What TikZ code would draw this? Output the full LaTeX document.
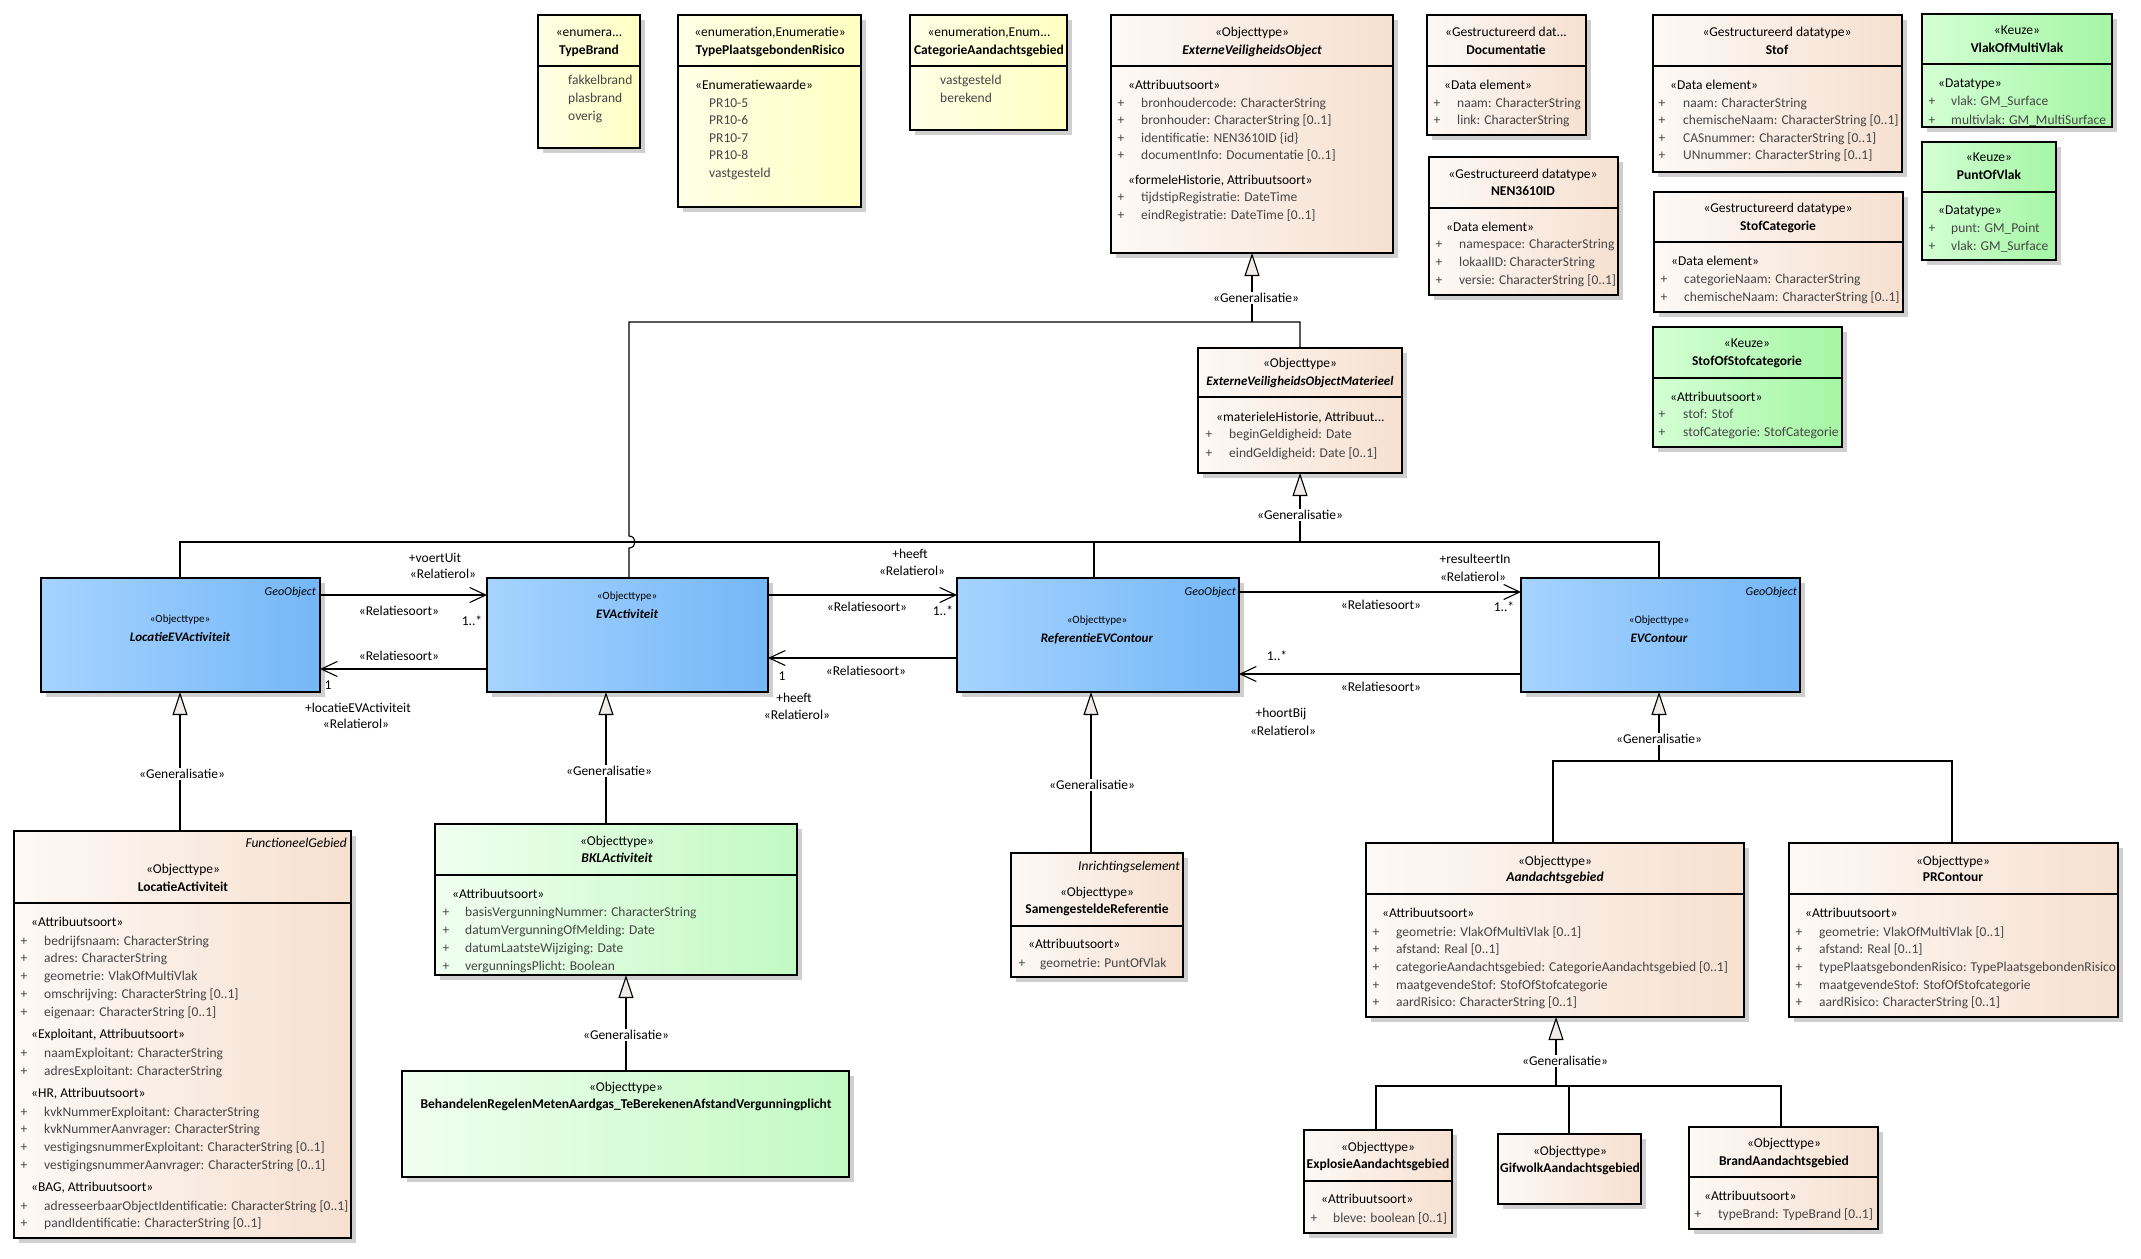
\documentclass[tikz,border=0pt]{standalone}
\usepackage{fontspec}
\setmainfont{Carlito}
\usetikzlibrary{arrows.meta}
\definecolor{beigeL}{HTML}{FDF9F6}
\definecolor{beigeR}{HTML}{F6E0D0}
\definecolor{blueL}{HTML}{A6D3FF}
\definecolor{blueR}{HTML}{74B7F7}
\definecolor{greenL}{HTML}{D4FFD4}
\definecolor{greenR}{HTML}{A4F6A4}
\definecolor{lgreenL}{HTML}{F0FFF0}
\definecolor{lgreenR}{HTML}{C2F9C2}
\definecolor{yelL}{HTML}{FFFFE6}
\definecolor{yelR}{HTML}{FFFFC2}
\definecolor{shad}{HTML}{CFCFCF}
\definecolor{attc}{HTML}{454545}
\definecolor{trif}{HTML}{F0ECE8}
\newcommand\fs{\fontsize{13.5}{16}\selectfont}
\newcommand\fss{\fontsize{11}{13}\selectfont}
\newcommand\fsn{\fontsize{13}{15}\selectfont}
\newcommand\fsg{\fontsize{12}{14}\selectfont}
\newcounter{tn}
\newcommand\uBox[6]{%
 \fill[shad] ({#2+5},{#3+5}) rectangle ({#4+5},{#5+5});
 \node[box,#6,minimum width={#4pt-#2pt},minimum height={#5pt-#3pt}] (#1) at (#2,#3) {};}
\newcommand\uDiv[2]{\draw[divl] (#1.west |- 0,#2) -- (#1.east |- 0,#2);}
\newcommand\uTL[4][]{\stepcounter{tn}\node[txt,anchor=base west,#1] (t\arabic{tn}) at (#2,{#3+4.5}) {#4};}
\newcommand\uTC[4][]{\stepcounter{tn}\node[txt,anchor=base,#1] (t\arabic{tn}) at (#2,{#3+4.5}) {#4};}
\newcommand\uTR[4][]{\stepcounter{tn}\node[txt,anchor=base east,#1] (t\arabic{tn}) at (#2,{#3+4.5}) {#4};}
\newcommand\uAR[4]{\stepcounter{tn}\node[txt,att,anchor=base] (t\arabic{tn}) at (#2,{#1+4.5}) {+};%
 \stepcounter{tn}\node[txt,att,anchor=base west] (t\arabic{tn}) at (#3,{#1+4.5}) {#4};}
\newcommand\uGL[3]{\stepcounter{tn}\node[glab] (t\arabic{tn}) at (#1,#2) {#3};}
\begin{document}
\begin{tikzpicture}[x=1pt,y=-1pt,
 box/.style={draw=black,line width=1.1pt,inner sep=0pt,outer sep=0pt,anchor=north west},
 beige/.style={left color=beigeL,right color=beigeR},
 blue/.style={left color=blueL,right color=blueR},
 green/.style={left color=greenL,right color=greenR},
 lgreen/.style={left color=lgreenL,right color=lgreenR},
 yel/.style={left color=yelL,right color=yelR},
 divl/.style={line width=1.1pt},
 txt/.style={inner sep=0pt,font=\fs,text=black},
 att/.style={text=attc},
 ln/.style={line width=1.1pt},
 gen/.style={line width=1.1pt,-{Triangle[length=23pt,width=15pt,fill=trif]}},
 assoc/.style={line width=1.1pt,-{Straight Barb[length=16pt,width=15pt]}},
 glab/.style={fill=white,inner sep=1.5pt,font=\fs}]
\fill[white] (0,0) rectangle (2141,1258);
\useasboundingbox (0,0) rectangle (2141,1258);

% ---------- enumerations
\uBox{TB}{538}{15}{640}{148}{yel}
\uDiv{TB}{66}
\uTC{589}{32}{«enumera...}
\uTC[font=\fs\bfseries]{589}{50}{TypeBrand}
\uTL[att]{568}{80}{fakkelbrand}
\uTL[att]{568}{98}{plasbrand}
\uTL[att]{568}{116}{overig}

\uBox{TPR}{678}{15}{861}{207}{yel}
\uDiv{TPR}{66}
\uTC{770}{32}{«enumeration,Enumeratie»}
\uTC[font=\fs\bfseries]{770}{50}{TypePlaatsgebondenRisico}
\uTL{695}{85}{«Enumeratiewaarde»}
\uTL[att]{709}{103}{PR10-5}
\uTL[att]{709}{120}{PR10-6}
\uTL[att]{709}{138}{PR10-7}
\uTL[att]{709}{155}{PR10-8}
\uTL[att]{709}{173}{vastgesteld}

\uBox{CAT}{910}{15}{1067}{130}{yel}
\uDiv{CAT}{66}
\uTC{989}{32}{«enumeration,Enum...}
\uTC[font=\fs\bfseries]{989}{50}{CategorieAandachtsgebied}
\uTL[att]{940}{80}{vastgesteld}
\uTL[att]{940}{98}{berekend}

% ---------- ExterneVeiligheidsObject
\uBox{EVO}{1111}{15}{1393}{253}{beige}
\uDiv{EVO}{66}
\uTC{1252}{32}{«Objecttype»}
\uTC[font=\fs\bfseries\itshape]{1252}{50}{ExterneVeiligheidsObject}
\uTL{1128}{85}{«Attribuutsoort»}
\uAR{103}{1121}{1141}{bronhoudercode: CharacterString}
\uAR{120}{1121}{1141}{bronhouder: CharacterString [0..1]}
\uAR{138}{1121}{1141}{identificatie: NEN3610ID \{id\}}
\uAR{155}{1121}{1141}{documentInfo: Documentatie [0..1]}
\uTL{1128}{180}{«formeleHistorie, Attribuutsoort»}
\uAR{197}{1121}{1141}{tijdstipRegistratie: DateTime}
\uAR{215}{1121}{1141}{eindRegistratie: DateTime [0..1]}

% ---------- Documentatie
\uBox{DOC}{1427}{15}{1586}{135}{beige}
\uDiv{DOC}{66}
\uTC{1506}{32}{«Gestructureerd dat...}
\uTC[font=\fs\bfseries]{1506}{50}{Documentatie}
\uTL{1444}{85}{«Data element»}
\uAR{103}{1437}{1457}{naam: CharacterString}
\uAR{120}{1437}{1457}{link: CharacterString}

% ---------- NEN3610ID
\uBox{NEN}{1429}{157}{1618}{295}{beige}
\uDiv{NEN}{208}
\uTC{1523}{174}{«Gestructureerd datatype»}
\uTC[font=\fs\bfseries]{1523}{191}{NEN3610ID}
\uTL{1446}{227}{«Data element»}
\uAR{244}{1439}{1459}{namespace: CharacterString}
\uAR{262}{1439}{1459}{lokaalID: CharacterString}
\uAR{280}{1439}{1459}{versie: CharacterString [0..1]}

% ---------- Stof
\uBox{STOF}{1653}{15}{1902}{172}{beige}
\uDiv{STOF}{66}
\uTC{1777}{32}{«Gestructureerd datatype»}
\uTC[font=\fs\bfseries]{1777}{50}{Stof}
\uTL{1670}{85}{«Data element»}
\uAR{103}{1662}{1683}{naam: CharacterString}
\uAR{120}{1662}{1683}{chemischeNaam: CharacterString [0..1]}
\uAR{138}{1662}{1683}{CASnummer: CharacterString [0..1]}
\uAR{155}{1662}{1683}{UNnummer: CharacterString [0..1]}

% ---------- StofCategorie
\uBox{STC}{1654}{192}{1903}{312}{beige}
\uDiv{STC}{242}
\uTC{1778}{208}{«Gestructureerd datatype»}
\uTC[font=\fs\bfseries]{1778}{226}{StofCategorie}
\uTL{1671}{261}{«Data element»}
\uAR{279}{1664}{1684}{categorieNaam: CharacterString}
\uAR{297}{1664}{1684}{chemischeNaam: CharacterString [0..1]}

% ---------- StofOfStofcategorie
\uBox{SOS}{1653}{327}{1842}{447}{green}
\uDiv{SOS}{378}
\uTC{1747}{343}{«Keuze»}
\uTC[font=\fs\bfseries]{1747}{361}{StofOfStofcategorie}
\uTL{1670}{397}{«Attribuutsoort»}
\uAR{414}{1662}{1683}{stof: Stof}
\uAR{432}{1662}{1683}{stofCategorie: StofCategorie}

% ---------- VlakOfMultiVlak
\uBox{VMV}{1922}{14}{2112}{127}{green}
\uDiv{VMV}{64}
\uTC{2017}{30}{«Keuze»}
\uTC[font=\fs\bfseries]{2017}{48}{VlakOfMultiVlak}
\uTL{1938}{83}{«Datatype»}
\uAR{101}{1932}{1951}{vlak: GM\_Surface}
\uAR{120}{1932}{1951}{multivlak: GM\_MultiSurface}

% ---------- PuntOfVlak
\uBox{POV}{1922}{142}{2056}{260}{green}
\uDiv{POV}{192}
\uTC{1989}{157}{«Keuze»}
\uTC[font=\fs\bfseries]{1989}{175}{PuntOfVlak}
\uTL{1938}{210}{«Datatype»}
\uAR{228}{1932}{1951}{punt: GM\_Point}
\uAR{246}{1932}{1951}{vlak: GM\_Surface}

% ---------- ExterneVeiligheidsObjectMaterieel
\uBox{EVOM}{1198}{348}{1402}{473}{beige}
\uDiv{EVOM}{397}
\uTC{1300}{363}{«Objecttype»}
\uTC[font=\fsn\bfseries\itshape]{1300}{381}{ExterneVeiligheidsObjectMaterieel}
\uTL{1216}{417}{«materieleHistorie, Attribuut...}
\uAR{434}{1209}{1229}{beginGeldigheid: Date}
\uAR{453}{1209}{1229}{eindGeldigheid: Date [0..1]}

% ---------- blue object types
\uBox{LEA}{41}{578}{320}{692}{blue}
\uTR[font=\fsg\itshape]{316}{591}{GeoObject}
\uTC[font=\fss]{180}{618}{«Objecttype»}
\uTC[font=\fsn\bfseries\itshape]{180}{637}{LocatieEVActiviteit}

\uBox{EVA}{487}{578}{768}{692}{blue}
\uTC[font=\fss]{627}{595}{«Objecttype»}
\uTC[font=\fsn\bfseries\itshape]{627}{614}{EVActiviteit}

\uBox{REF}{957}{578}{1239}{692}{blue}
\uTR[font=\fsg\itshape]{1236}{591}{GeoObject}
\uTC[font=\fss]{1097}{619}{«Objecttype»}
\uTC[font=\fsn\bfseries\itshape]{1097}{638}{ReferentieEVContour}

\uBox{EVC}{1521}{578}{1800}{692}{blue}
\uTR[font=\fsg\itshape]{1797}{591}{GeoObject}
\uTC[font=\fss]{1659}{619}{«Objecttype»}
\uTC[font=\fsn\bfseries\itshape]{1659}{638}{EVContour}

% ---------- LocatieActiviteit
\uBox{LA}{14}{831}{351}{1238}{beige}
\uDiv{LA}{903}
\uTR[font=\fs\itshape]{347}{843}{FunctioneelGebied}
\uTC{183}{869}{«Objecttype»}
\uTC[font=\fs\bfseries]{183}{887}{LocatieActiviteit}
\uTL{31}{922}{«Attribuutsoort»}
\uAR{941}{24}{44}{bedrijfsnaam: CharacterString}
\uAR{958}{24}{44}{adres: CharacterString}
\uAR{976}{24}{44}{geometrie: VlakOfMultiVlak}
\uAR{994}{24}{44}{omschrijving: CharacterString [0..1]}
\uAR{1012}{24}{44}{eigenaar: CharacterString [0..1]}
\uTL{31}{1034}{«Exploitant, Attribuutsoort»}
\uAR{1053}{24}{44}{naamExploitant: CharacterString}
\uAR{1071}{24}{44}{adresExploitant: CharacterString}
\uTL{31}{1093}{«HR, Attribuutsoort»}
\uAR{1112}{24}{44}{kvkNummerExploitant: CharacterString}
\uAR{1129}{24}{44}{kvkNummerAanvrager: CharacterString}
\uAR{1147}{24}{44}{vestigingsnummerExploitant: CharacterString [0..1]}
\uAR{1165}{24}{44}{vestigingsnummerAanvrager: CharacterString [0..1]}
\uTL{31}{1187}{«BAG, Attribuutsoort»}
\uAR{1206}{24}{44}{adresseerbaarObjectIdentificatie: CharacterString [0..1]}
\uAR{1223}{24}{44}{pandIdentificatie: CharacterString [0..1]}

% ---------- BKLActiviteit
\uBox{BKL}{435}{824}{797}{975}{lgreen}
\uDiv{BKL}{875}
\uTC{617}{841}{«Objecttype»}
\uTC[font=\fs\bfseries\itshape]{617}{858}{BKLActiviteit}
\uTL{452}{894}{«Attribuutsoort»}
\uAR{912}{446}{465}{basisVergunningNummer: CharacterString}
\uAR{930}{446}{465}{datumVergunningOfMelding: Date}
\uAR{948}{446}{465}{datumLaatsteWijziging: Date}
\uAR{966}{446}{465}{vergunningsPlicht: Boolean}

\uBox{BEH}{402}{1071}{849}{1177}{lgreen}
\uTC{626}{1087}{«Objecttype»}
\uTC[font=\fs\bfseries]{626}{1104}{BehandelenRegelenMetenAardgas\_TeBerekenenAfstandVergunningplicht}

% ---------- SamengesteldeReferentie
\uBox{SAM}{1011}{853}{1183}{977}{beige}
\uDiv{SAM}{926}
\uTR[font=\fs\itshape]{1180}{866}{Inrichtingselement}
\uTC{1097}{892}{«Objecttype»}
\uTC[font=\fs\bfseries]{1097}{909}{SamengesteldeReferentie}
\uTL{1028}{944}{«Attribuutsoort»}
\uAR{963}{1022}{1040}{geometrie: PuntOfVlak}

% ---------- Aandachtsgebied
\uBox{AAN}{1366}{843}{1744}{1017}{beige}
\uDiv{AAN}{894}
\uTC{1555}{861}{«Objecttype»}
\uTC[font=\fs\bfseries\itshape]{1555}{877}{Aandachtsgebied}
\uTL{1382}{913}{«Attribuutsoort»}
\uAR{932}{1376}{1396}{geometrie: VlakOfMultiVlak [0..1]}
\uAR{949}{1376}{1396}{afstand: Real [0..1]}
\uAR{967}{1376}{1396}{categorieAandachtsgebied: CategorieAandachtsgebied [0..1]}
\uAR{985}{1376}{1396}{maatgevendeStof: StofOfStofcategorie}
\uAR{1002}{1376}{1396}{aardRisico: CharacterString [0..1]}

% ---------- PRContour
\uBox{PRC}{1789}{843}{2118}{1017}{beige}
\uDiv{PRC}{894}
\uTC{1953}{861}{«Objecttype»}
\uTC[font=\fs\bfseries]{1953}{877}{PRContour}
\uTL{1805}{913}{«Attribuutsoort»}
\uAR{932}{1799}{1819}{geometrie: VlakOfMultiVlak [0..1]}
\uAR{949}{1799}{1819}{afstand: Real [0..1]}
\uAR{967}{1799}{1819}{typePlaatsgebondenRisico: TypePlaatsgebondenRisico}
\uAR{985}{1799}{1819}{maatgevendeStof: StofOfStofcategorie}
\uAR{1002}{1799}{1819}{aardRisico: CharacterString [0..1]}

% ---------- bottom subtypes
\uBox{EXP}{1304}{1130}{1452}{1233}{beige}
\uDiv{EXP}{1181}
\uTC{1378}{1147}{«Objecttype»}
\uTC[font=\fs\bfseries]{1378}{1164}{ExplosieAandachtsgebied}
\uTL{1321}{1199}{«Attribuutsoort»}
\uAR{1218}{1314}{1333}{bleve: boolean [0..1]}

\uBox{GIF}{1498}{1134}{1641}{1204}{beige}
\uTC{1570}{1151}{«Objecttype»}
\uTC[font=\fs\bfseries]{1570}{1168}{GifwolkAandachtsgebied}

\uBox{BRA}{1689}{1127}{1878}{1229}{beige}
\uDiv{BRA}{1177}
\uTC{1784}{1143}{«Objecttype»}
\uTC[font=\fs\bfseries]{1784}{1161}{BrandAandachtsgebied}
\uTL{1704}{1196}{«Attribuutsoort»}
\uAR{1214}{1698}{1718}{typeBrand: TypeBrand [0..1]}

% ---------- generalisation trees
\coordinate (j1) at (1252,322);
\draw[gen] (j1) -- (EVO.south -| j1);
\draw[ln] (EVA.north -| 629,0) -- (629,548) .. controls (637,548) and (637,536) .. (629,536) -- (629,322) -- (1300,322) -- (EVOM.north -| 1300,0);
\coordinate (j2) at (1300,542);
\draw[gen] (j2) -- (EVOM.south -| j2);
\draw[ln] (LEA.north -| 180,0) -- (180,542) -- (1659,542) -- (EVC.north -| 1659,0);
\draw[ln] (1094,542) -- (REF.north -| 1094,0);
\draw[gen] (LA.north -| 180,0) -- (LEA.south -| 180,0);
\draw[gen] (BKL.north -| 606,0) -- (EVA.south -| 606,0);
\draw[gen] (BEH.north -| 626,0) -- (BKL.south -| 626,0);
\draw[gen] (SAM.north -| 1091,0) -- (REF.south -| 1091,0);
\coordinate (j3) at (1659,761);
\draw[gen] (j3) -- (EVC.south -| j3);
\draw[ln] (AAN.north -| 1553,0) -- (1553,761) -- (1952,761) -- (PRC.north -| 1952,0);
\coordinate (j4) at (1556,1086);
\draw[gen] (j4) -- (AAN.south -| j4);
\draw[ln] (EXP.north -| 1376,0) -- (1376,1086) -- (1781,1086) -- (BRA.north -| 1781,0);
\draw[ln] (1569,1086) -- (GIF.north -| 1569,0);

\uGL{1256}{298}{«Generalisatie»}
\uGL{1300}{515}{«Generalisatie»}
\uGL{182}{774}{«Generalisatie»}
\uGL{609}{771}{«Generalisatie»}
\uGL{626}{1035}{«Generalisatie»}
\uGL{1092}{785}{«Generalisatie»}
\uGL{1659}{739}{«Generalisatie»}
\uGL{1565}{1061}{«Generalisatie»}

% ---------- associations
\draw[assoc] (LEA.east |- 0,595) -- (EVA.west |- 0,595);
\draw[assoc] (EVA.west |- 0,669) -- (LEA.east |- 0,669);
\draw[assoc] (EVA.east |- 0,595) -- (REF.west |- 0,595);
\draw[assoc] (REF.west |- 0,658) -- (EVA.east |- 0,658);
\draw[assoc] (REF.east |- 0,592) -- (EVC.west |- 0,592);
\draw[assoc] (EVC.west |- 0,674) -- (REF.east |- 0,674);

\uTC{435}{558}{+voertUit}
\uTC{443}{574}{«Relatierol»}
\uTC{399}{611}{«Relatiesoort»}
\uTC{472}{621}{1..*}
\uTC{399}{656}{«Relatiesoort»}
\uTC{328}{685}{1}
\uTC{358}{708}{+locatieEVActiviteit}
\uTC{356}{724}{«Relatierol»}

\uTC{910}{554}{+heeft}
\uTC{912}{571}{«Relatierol»}
\uTC{867}{607}{«Relatiesoort»}
\uTC{943}{611}{1..*}
\uTC{866}{671}{«Relatiesoort»}
\uTC{782}{676}{1}
\uTC{794}{698}{+heeft}
\uTC{797}{715}{«Relatierol»}

\uTC{1475}{559}{+resulteertIn}
\uTC{1473}{577}{«Relatierol»}
\uTC{1381}{605}{«Relatiesoort»}
\uTC{1504}{607}{1..*}
\uTC{1381}{687}{«Relatiesoort»}
\uTC{1277}{656}{1..*}
\uTC{1281}{713}{+hoortBij}
\uTC{1283}{731}{«Relatierol»}
\end{tikzpicture}
\end{document}
